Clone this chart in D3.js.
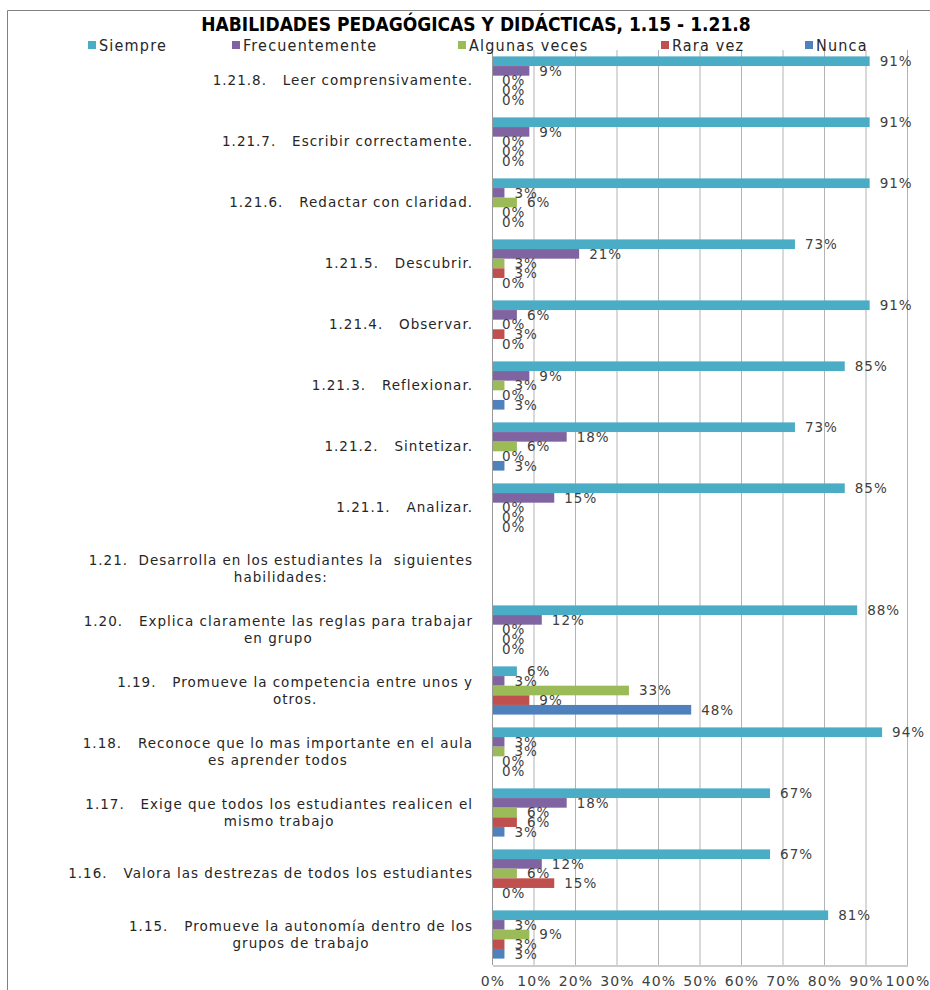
<!DOCTYPE html>
<html>
<head>
<meta charset="utf-8">
<script src="https://cdn.jsdelivr.net/npm/d3@7"></script>
<style>
  body { margin: 0; background: #fff; }
  text { white-space: pre; }
</style>
</head>
<body>
<div id="chart"></div>
<script>
// categories, top to bottom (each entry = lines of the wrapped label)
var categories = [
    ["1.21.8.   Leer comprensivamente."],
    ["1.21.7.   Escribir correctamente."],
    ["1.21.6.   Redactar con claridad."],
    ["1.21.5.   Descubrir."],
    ["1.21.4.   Observar."],
    ["1.21.3.   Reflexionar."],
    ["1.21.2.   Sintetizar."],
    ["1.21.1.   Analizar."],
    ["1.21.  Desarrolla en los estudiantes la  siguientes", "habilidades:"],
    ["1.20.   Explica claramente las reglas para trabajar", "en grupo"],
    ["1.19.   Promueve la competencia entre unos y", "otros."],
    ["1.18.   Reconoce que lo mas importante en el aula", "es aprender todos"],
    ["1.17.   Exige que todos los estudiantes realicen el", "mismo trabajo"],
    ["1.16.   Valora las destrezas de todos los estudiantes"],
    ["1.15.   Promueve la autonomía dentro de los", "grupos de trabajo"]
];

var seriesNames = ["Siempre", "Frecuentemente", "Algunas veces", "Rara vez", "Nunca"];
var seriesColors = ["#4bacc6", "#8064a2", "#9bbb59", "#c0504d", "#4f81bd"];

// values in %, same order as categories (null = no data)
var siempre        = [91, 91, 91, 73, 91, 85, 73, 85, null, 88,  6, 94, 67, 67, 81];
var frecuentemente = [ 9,  9,  3, 21,  6,  9, 18, 15, null, 12,  3,  3, 18, 12,  3];
var algunasVeces   = [ 0,  0,  6,  3,  0,  3,  6,  0, null,  0, 33,  3,  6,  6,  9];
var raraVez        = [ 0,  0,  0,  3,  3,  0,  0,  0, null,  0,  9,  0,  6, 15,  3];
var nunca          = [ 0,  0,  0,  0,  0,  3,  3,  0, null,  0, 48,  0,  3,  0,  3];

var xTicks = [0, 10, 20, 30, 40, 50, 60, 70, 80, 90, 100];

var series = [siempre, frecuentemente, algunasVeces, raraVez, nunca];

const W = 930, H = 990;
const plot = {left: 492, right: 907, top: 50, bottom: 965};
const labelRight = 473;
const labelFont = "'DejaVu Sans', Verdana, sans-serif";
const narrowFont = "'Liberation Sans Narrow', 'DejaVu Sans Condensed', Calibri, sans-serif";

var svg = d3.select("#chart").append("svg")
    .attr("width", W)
    .attr("height", H);

// chart frame (only left + top visible in the crop)
svg.append("path")
    .attr("d", `M7.5,${H} V10.5 H${W}`)
    .attr("fill", "none")
    .attr("stroke", "#808080")
    .attr("stroke-width", 1);

var x = d3.scaleLinear().domain([0, 100]).range([plot.left, plot.right]);
var y = d3.scaleBand()
    .domain(d3.range(categories.length))
    .range([plot.top, plot.bottom])
    .paddingInner(0.21)
    .paddingOuter(0.105);
var ySub = d3.scaleBand()
    .domain(d3.range(series.length))
    .range([0, y.bandwidth()]);

// gridlines
svg.append("g")
    .selectAll("line")
    .data(xTicks.slice(1))
    .join("line")
    .attr("x1", d => x(d) + 0.5)
    .attr("x2", d => x(d) + 0.5)
    .attr("y1", plot.top)
    .attr("y2", plot.bottom)
    .attr("stroke", "#b3b3b3");

// bottom axis
var xAxis = svg.append("g")
    .attr("transform", `translate(0.5,${plot.bottom + 0.5})`)
    .call(d3.axisBottom(x).tickValues(xTicks).tickSize(0).tickPadding(11)
        .tickFormat(d => d + "%"));
xAxis.select(".domain").attr("stroke", "#999");
xAxis.selectAll("text")
    .attr("font-family", labelFont)
    .attr("font-size", 14)
    .attr("letter-spacing", 1.2)
    .attr("fill", "#404040");

// left axis line
svg.append("line")
    .attr("x1", plot.left + 0.5).attr("x2", plot.left + 0.5)
    .attr("y1", plot.top).attr("y2", plot.bottom)
    .attr("stroke", "#999");

// bars + labels
var rows = [];
categories.forEach(function(c, i) {
    series.forEach(function(s, j) {
        if (s[i] !== null) rows.push({cat: i, ser: j, v: s[i]});
    });
});

svg.append("g")
    .selectAll("rect")
    .data(rows)
    .join("rect")
    .attr("x", plot.left + 1)
    .attr("y", d => y(d.cat) + ySub(d.ser))
    .attr("width", d => Math.max(0, x(d.v) - plot.left - 1))
    .attr("height", ySub.bandwidth())
    .attr("fill", d => seriesColors[d.ser]);

svg.append("g")
    .selectAll("text")
    .data(rows)
    .join("text")
    .attr("x", d => x(d.v) + 10)
    .attr("y", d => y(d.cat) + ySub(d.ser) + ySub.bandwidth() / 2)
    .attr("dy", "0.36em")
    .attr("font-family", labelFont)
    .attr("font-size", 13.5)
    .attr("letter-spacing", 1)
    .attr("fill", "#404040")
    .text(d => d.v + "%");

// category labels: block right-aligned, lines centred in block
var catG = svg.append("g");
categories.forEach(function(lines, i) {
    var g = catG.append("g");
    var cy = y(i) + y.bandwidth() / 2;
    var lh = 17;
    var t = g.selectAll("text")
        .data(lines)
        .join("text")
        .attr("y", (d, k) => cy + (k - (lines.length - 1) / 2) * lh)
        .attr("dy", "0.36em")
        .attr("text-anchor", "middle")
        .attr("font-family", labelFont)
        .attr("font-size", 13.5)
        .attr("letter-spacing", 1)
        .attr("fill", "#262626")
        .text(d => d);
    var w = d3.max(t.nodes(), n => n.getComputedTextLength());
    t.attr("x", labelRight - w / 2);
});

// title
svg.append("text")
    .attr("x", 476)
    .attr("y", 31)
    .attr("text-anchor", "middle")
    .attr("font-family", narrowFont)
    .attr("font-weight", "bold")
    .attr("font-size", 19)
    .attr("fill", "#000")
    .text("HABILIDADES PEDAGÓGICAS Y DIDÁCTICAS, 1.15 - 1.21.8");

// legend
var legendX = [88, 232, 458, 661, 805];
var legend = svg.append("g")
    .selectAll("g")
    .data(seriesNames)
    .join("g")
    .attr("transform", (d, i) => `translate(${legendX[i]},45)`);
legend.append("rect")
    .attr("x", 0).attr("y", -4)
    .attr("width", 8).attr("height", 8)
    .attr("fill", (d, i) => seriesColors[i]);
legend.append("text")
    .attr("x", 11)
    .attr("dy", "0.36em")
    .attr("font-family", narrowFont)
    .attr("font-size", 16)
    .attr("letter-spacing", 1.2)
    .attr("fill", "#262626")
    .text(d => d);
</script>
</body>
</html>
